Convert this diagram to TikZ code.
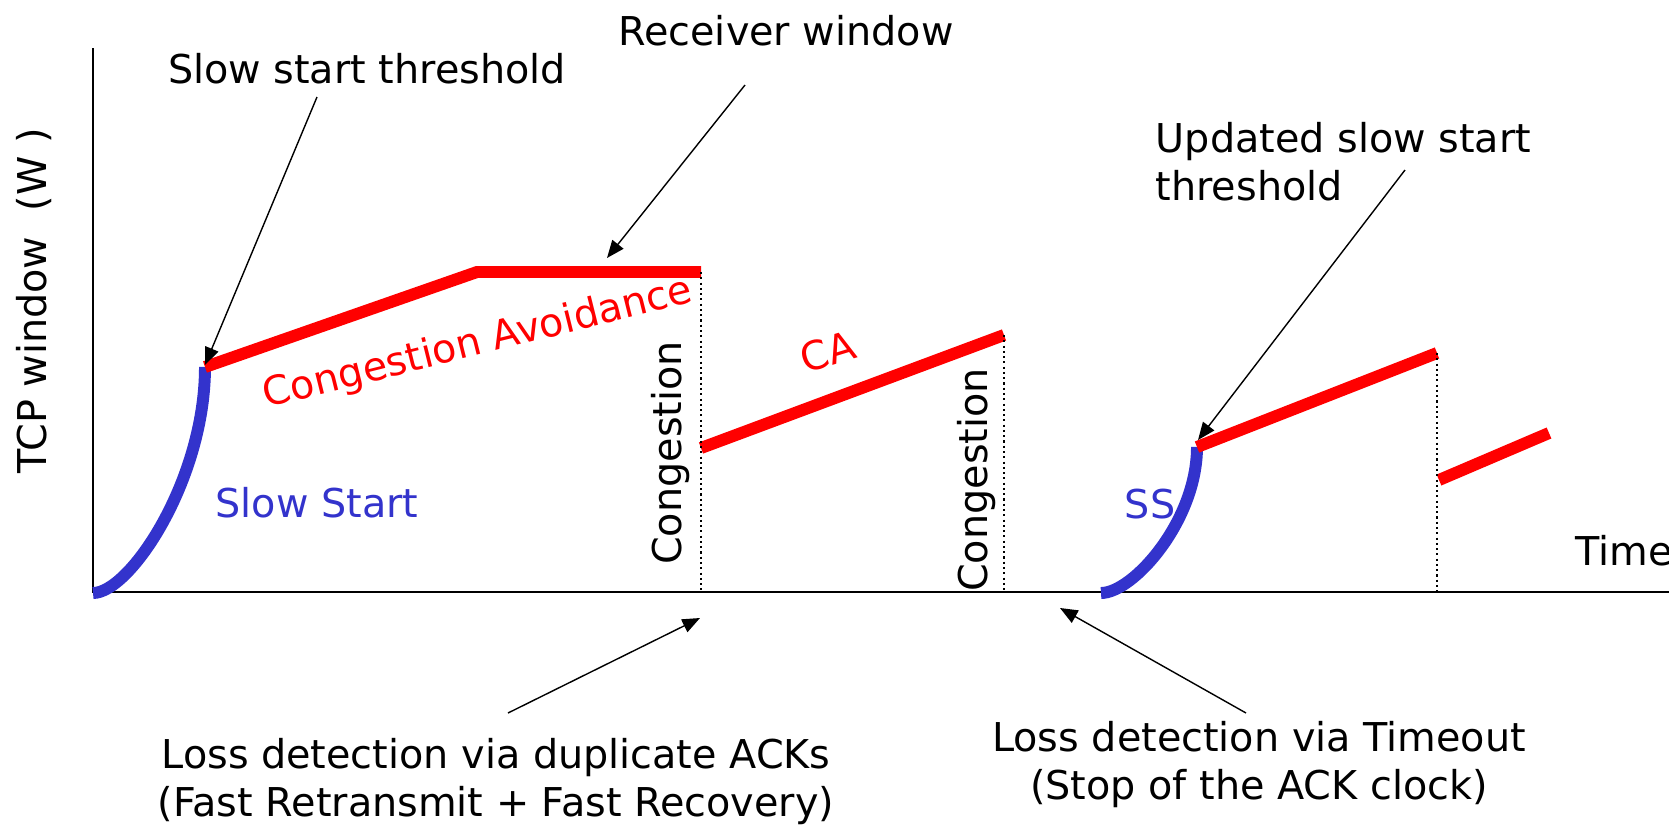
\documentclass[tikz,border=0pt]{standalone}
\usepackage{fontspec}
\setmainfont{DejaVu Sans}
\usetikzlibrary{arrows.meta}

\definecolor{ssblue}{RGB}{51,51,204}
\definecolor{cared}{RGB}{255,0,0}

\begin{document}
\begin{tikzpicture}[x=0.1mm,y=-0.1mm,>={Triangle[length=5pt,width=4pt]},
    every node/.style={font=\fontsize{11.3}{13.5}\selectfont},
    lbl/.style={inner sep=0pt},
    caline/.style={line width=3.4pt,cared},
    ssline/.style={line width=3.4pt,ssblue},
    ptr/.style={->,line width=0.4pt},
    drop/.style={line width=0.5pt,dash pattern=on 0.6pt off 0.9pt}]
  \useasboundingbox (0,0) rectangle (1669,827);

  % axes
  \coordinate (ytop) at (93,48);
  \coordinate (o) at (93,592);
  \coordinate (xend) at (1669,592);
  \draw[line width=0.7pt] (ytop) -- (o) -- (xend);

  % window
  \coordinate (s1) at (93,593);
  \coordinate (ss1) at (205,367);
  \coordinate (rw1) at (477,272);
  \coordinate (rw2) at (701,272);
  \coordinate (fr1) at (701,448);
  \coordinate (fr2) at (1004,335);
  \coordinate (s2) at (1101,593);
  \coordinate (ss2) at (1197,447);
  \coordinate (ca2) at (1437,353);
  \coordinate (ca3) at (1439,480);
  \coordinate (ca4) at (1549,433);

  \draw[ssline] (s1) .. controls (130,593) and (205,480) .. (ss1);
  \draw[ssline] (s2) .. controls (1133,593) and (1197,521) .. (ss2);
  \draw[caline] (ss1) -- (rw1) -- (rw2);
  \draw[caline] (fr1) -- (fr2);
  \draw[caline] (ss2) -- (ca2);
  \draw[caline] (ca3) -- (ca4);
  \draw[drop] (rw2) -- (rw2 |- o);
  \draw[drop] (fr2) -- (fr2 |- o);
  \draw[drop] (ca2) -- (ca2 |- o);

  % labels
  \node[lbl,anchor=base] (sst) at (367,83) {Slow start threshold};
  \node[lbl,anchor=base] (recv) at (786,45) {Receiver window};
  \node[lbl,anchor=north west,align=left] (upd) at (1155,122) {Updated slow start\\threshold};
  \node[lbl,cared,rotate=14] (cav) at (478,344) {Congestion Avoidance};
  \node[lbl,cared,rotate=17] (ca) at (828,352) {CA};
  \node[lbl,ssblue,anchor=base] (slst) at (317,517) {Slow Start};
  \node[lbl,ssblue,anchor=base] (ss) at (1150,518) {SS};
  \node[lbl,rotate=90,anchor=base] (cg1) at (681,453) {Congestion};
  \node[lbl,rotate=90,anchor=base] (cg2) at (987,480) {Congestion};
  \node[lbl,anchor=base west] (time) at (1575,565) {Time};
  \node[lbl,rotate=90,anchor=base] (wlab) at (47,301) {TCP window\ \ (W )};
  \node[lbl,align=center,anchor=north] (dup) at (496,738) {Loss detection via duplicate ACKs\\(Fast Retransmit + Fast Recovery)};
  \node[lbl,align=center,anchor=north] (tmo) at (1259,721) {Loss detection via Timeout\\(Stop of the ACK clock)};

  % pointers
  \coordinate (thrFrom) at (317,97);
  \coordinate (thr) at (205,365);
  \coordinate (rwinFrom) at (745,85);
  \coordinate (rwin) at (607,258);
  \coordinate (newthrFrom) at (1405,170);
  \coordinate (newthr) at (1198,440);
  \coordinate (dupFrom) at (508,713);
  \coordinate (dupack) at (700,618);
  \coordinate (toutFrom) at (1246,713);
  \coordinate (tout) at (1060,608);
  \draw[ptr] (thrFrom) -- (thr);
  \draw[ptr] (rwinFrom) -- (rwin);
  \draw[ptr] (newthrFrom) -- (newthr);
  \draw[ptr] (dupFrom) -- (dupack);
  \draw[ptr] (toutFrom) -- (tout);
\end{tikzpicture}
\end{document}
